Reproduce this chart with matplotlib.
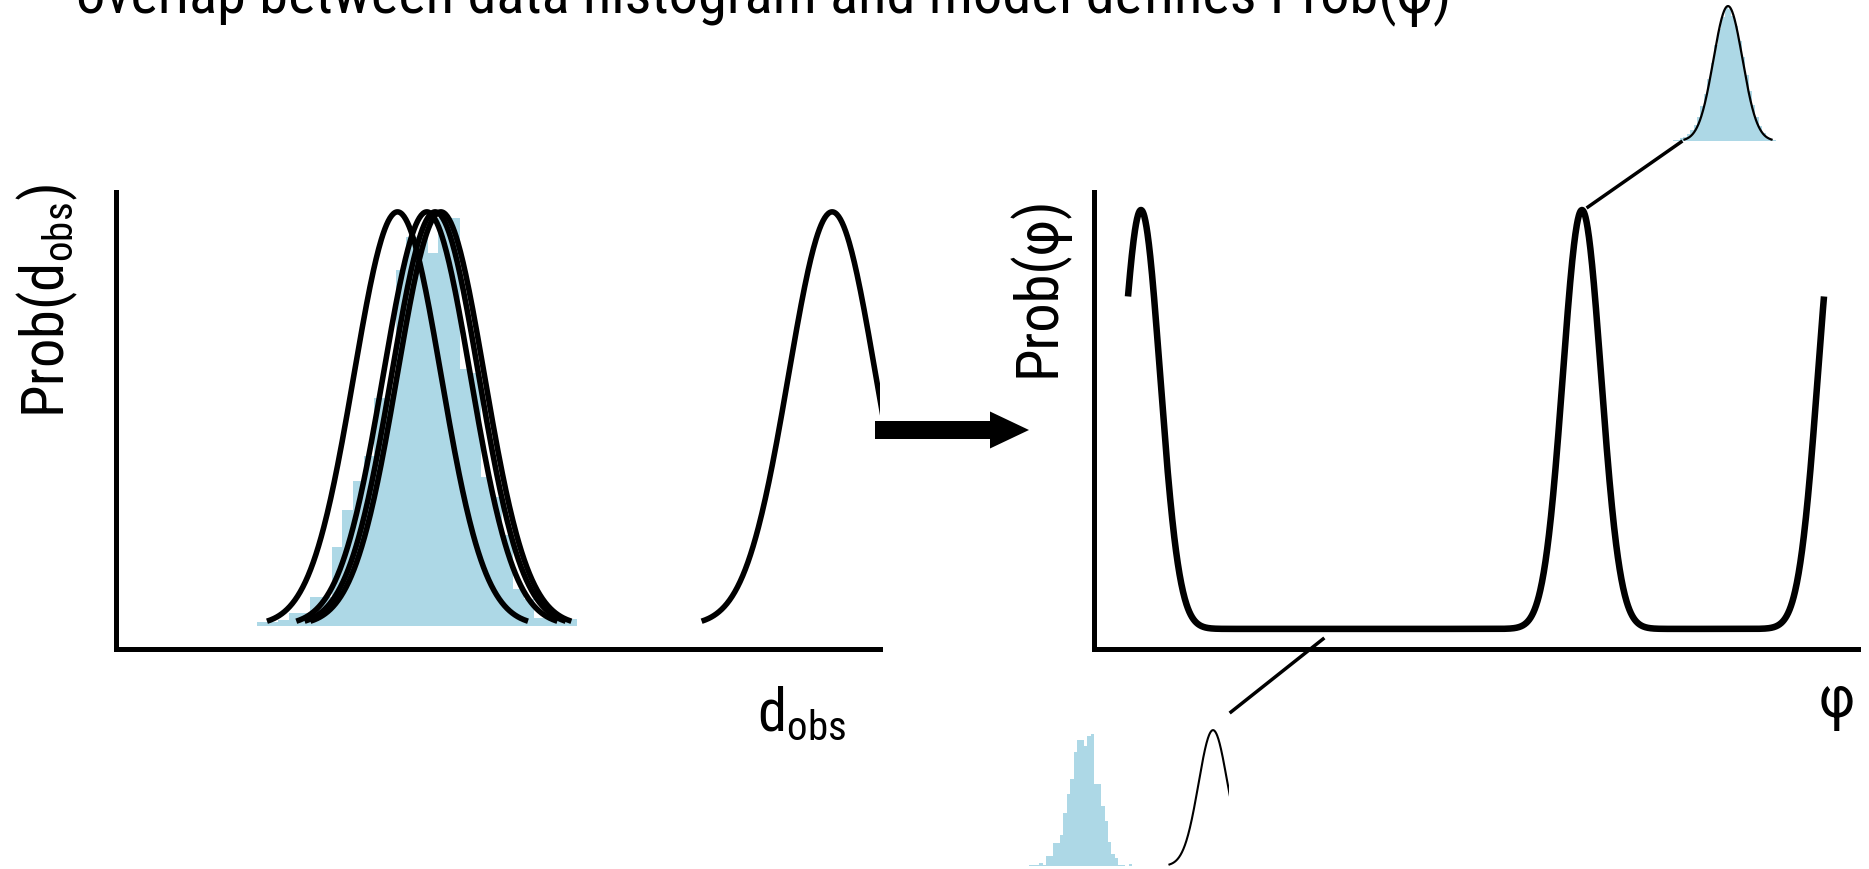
import numpy as np
import matplotlib
matplotlib.use("Agg")
import matplotlib.pyplot as plt
import matplotlib.font_manager as fm
from matplotlib.patches import FancyArrow
from matplotlib.lines import Line2D

W, H = 1869, 870

# --- data ----------------------------------------------------------------
# left panel: histogram of the observed data (bin heights, fraction of peak)
d_hist = [0.01, 0.01, 0.015, 0.03, 0.03, 0.07, 0.07, 0.19, 0.28, 0.35,
          0.41, 0.55, 0.55, 0.86, 0.94, 0.94, 0.90, 0.985, 0.985, 0.62,
          0.61, 0.36, 0.31, 0.22, 0.09, 0.065, 0.02, 0.02, 0.02, 0.017]
d_hist_range = (-3.98, 3.38)
# model curves (centre of each gaussian, unit width, cut at +-3)
model_centers = [-0.75, -0.076, 0.115, 0.246, 9.24]
model_cut = 3.0

# right panel: Prob(phi), peaks of the overlap curve
phi_peaks = [0.615, 6.387, 9.725]
phi_sigma = 0.25
phi_range = (0.445, 9.555)

# small insets: histogram bin heights (fraction of peak)
lo_hist = [0.01, 0.01, 0.01, 0.02, 0.01, 0.07, 0.07, 0.17, 0.17, 0.23,
           0.39, 0.53, 0.64, 0.84, 0.93, 0.93, 0.88, 0.96, 0.97, 0.60,
           0.60, 0.44, 0.33, 0.18, 0.09, 0.06, 0.01, 0.01, 0.0, 0.015]
lo_hist_range = (-3.43, 3.66)
lo_model_center = 9.24

hi_hist = [0.01, 0.01, 0.02, 0.03, 0.05, 0.08, 0.12, 0.18, 0.26, 0.35,
           0.46, 0.58, 0.71, 0.83, 0.92, 0.99, 0.98, 0.93, 0.85, 0.74,
           0.62, 0.49, 0.37, 0.27, 0.18, 0.11, 0.06, 0.03, 0.015, 0.01]
hi_hist_range = (-3.79, 3.31)
hi_model_center = 0.0

title = 'overlap between data histogram and model defines Prob(\u03c6)'

# --- fonts: a narrow sans if one is there ------------------------------------
names = {f.name for f in fm.fontManager.ttflist}
fam = ['Liberation Sans', 'DejaVu Sans']
for cand in ['Liberation Sans Narrow', 'Arial Narrow', 'Roboto Condensed',
             'Open Sans Condensed', 'Noto Sans Condensed']:
    if cand in names:
        fam = [cand, 'Liberation Sans', 'DejaVu Sans']
        break
plt.rcParams['font.family'] = fam
plt.rcParams['mathtext.default'] = 'regular'

HIST_COLOR = '#add8e6'


def box(l, t, r, b):
    return [l / W, 1 - b / H, (r - l) / W, (b - t) / H]


def fx(x):
    return x / W


def fy(y):
    return 1 - y / H


def gauss_curve(c, cut=model_cut, n=300):
    x = np.linspace(c - cut, c + cut, n)
    return x, np.exp(-0.5 * (x - c) ** 2)


def draw_hist(ax, heights, rng):
    edges = np.linspace(rng[0], rng[1], len(heights) + 1)
    ax.stairs(heights, edges, fill=True, color=HIST_COLOR, lw=0)


fig = plt.figure(figsize=(W / 100, H / 100), dpi=100)

ylim = (-0.056, 1.048)
xlim_d = (-7.22, 10.34)

# left panel
ax_d = fig.add_axes(box(116, 193, 880, 650))
draw_hist(ax_d, d_hist, d_hist_range)
for c in model_centers:
    x, y = gauss_curve(c)
    ax_d.plot(x, y, color='black', lw=4.0, solid_capstyle='butt')
ax_d.set_xlim(*xlim_d)
ax_d.set_ylim(*ylim)

# right panel
ax_p = fig.add_axes(box(1094, 193, 1858, 650))
phi = np.linspace(phi_range[0], phi_range[1], 2000)
prob = np.zeros_like(phi)
for p in phi_peaks:
    prob += np.exp(-0.5 * ((phi - p) / phi_sigma) ** 2)
ax_p.plot(phi, prob, color='black', lw=4.7, solid_capstyle='butt')
ax_p.set_xlim(0, 10)
ax_p.set_ylim(-0.048, 1.043)

for ax in (ax_d, ax_p):
    ax.set_xticks([])
    ax.set_yticks([])
    ax.spines['top'].set_visible(False)
    ax.spines['right'].set_visible(False)
    ax.spines['left'].set_linewidth(3.6)
    ax.spines['bottom'].set_linewidth(3.6)
    ax.patch.set_alpha(0)

# bottom inset: no overlap
ax_lo = fig.add_axes(box(974, 724.6, 1229, 874.6))
draw_hist(ax_lo, lo_hist, lo_hist_range)
x, y = gauss_curve(lo_model_center)
ax_lo.plot(x, y, color='black', lw=1.5)
ax_lo.set_xlim(*xlim_d)
ax_lo.set_ylim(*ylim)
ax_lo.axis('off')

# top inset: good overlap
ax_hi = fig.add_axes(box(1670, 0.6, 1786, 149.6))
draw_hist(ax_hi, hi_hist, hi_hist_range)
x, y = gauss_curve(hi_model_center)
ax_hi.plot(x, y, color='black', lw=1.6)
ax_hi.set_xlim(-4, 4)
ax_hi.set_ylim(*ylim)
ax_hi.axis('off')

# connectors
fig.add_artist(Line2D([fx(1588), fx(1681)], [fy(208), fy(143)],
                      color='black', lw=2.5))
fig.add_artist(Line2D([fx(1323), fx(1231)], [fy(640), fy(713)],
                      color='black', lw=2.5))

# arrow between panels
fig.add_artist(FancyArrow(fx(875), fy(431), fx(1029) - fx(875), 0,
                          width=18 / H, head_width=37 / H,
                          head_length=39 / W, length_includes_head=True,
                          transform=fig.transFigure, color='black', lw=0))

# texts: size the font so the title spans the same width as in the original
t = fig.text(fx(76), fy(13), title, fontsize=40, ha='left', va='baseline')
fig.canvas.draw()
wpx = t.get_window_extent(fig.canvas.get_renderer()).width
fs = 40 * 1376 / wpx
t.set_fontsize(fs)

fig.text(fx(47), fy(301), 'Prob(d$_{obs}$)', fontsize=fs, rotation=90,
         ha='center', va='center')
fig.text(fx(802), fy(714), 'd$_{obs}$', fontsize=fs, ha='center', va='center')
fig.text(fx(1038), fy(286), 'Prob(\u03c6)', fontsize=fs, rotation=90,
         ha='center', va='center')
fig.text(fx(1837), fy(703), '\u03c6', fontsize=fs, ha='center', va='center')

fig.savefig('out.png', dpi=100)
